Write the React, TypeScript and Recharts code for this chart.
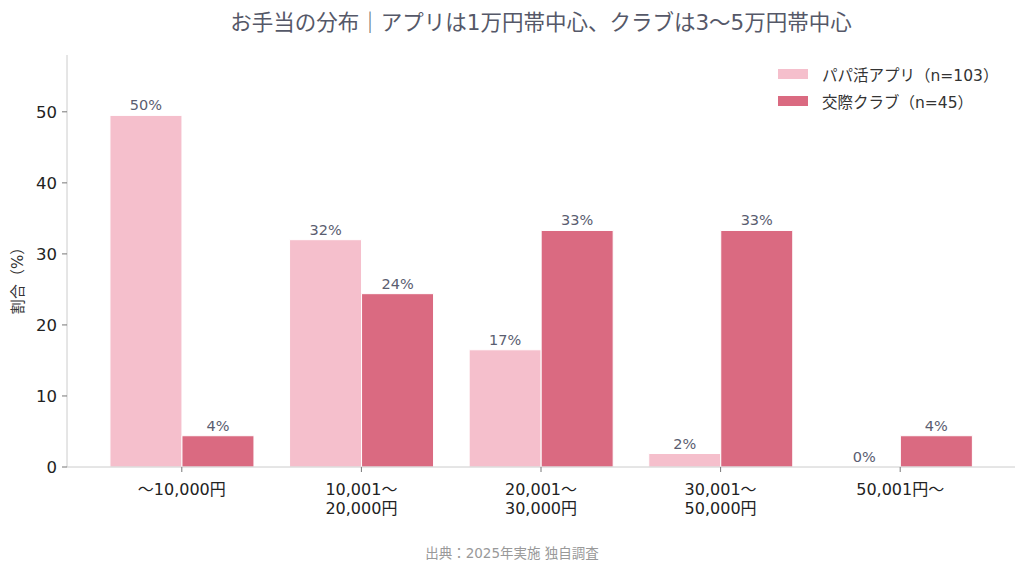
import React from 'react';
import { BarChart, Bar, XAxis, YAxis, LabelList } from 'recharts';

const categories = ['〜10,000円', '10,001〜\n20,000円', '20,001〜\n30,000円', '30,001〜\n50,000円', '50,001円〜'];
const appValues = [49.5, 32.0, 16.5, 1.9, 0];
const clubValues = [4.4, 24.4, 33.3, 33.3, 4.4];
const yTicks = [0, 10, 20, 30, 40, 50];

const APP_NAME = 'パパ活アプリ（n=103）';
const CLUB_NAME = '交際クラブ（n=45）';
const APP_COLOR = '#F5BFCC';
const CLUB_COLOR = '#DA6A81';
// matplotlib風: 英数字は DejaVu Sans、日本語は CJK フォントへフォールバック
const FONT = '"DejaVu Sans", "Noto Sans CJK JP", sans-serif';
const CJK = '"Noto Sans CJK JP", sans-serif';

const data = categories.map((c, i) => ({ name: c, app: appValues[i], club: clubValues[i] }));

// 2行のカテゴリ名
const XTick = (props: any) => {
  const { x, y, payload } = props;
  const lines = String(payload.value).split('\n');
  return (
    <g transform={`translate(${x},${y})`}>
      {lines.map((ln, i) => (
        <text key={i} x={0} y={21 + i * 19} textAnchor="middle" fontSize={16} fill="#222" fontFamily={FONT}>
          {ln}
        </text>
      ))}
    </g>
  );
};

const pct = (v: any) => `${Math.round(Number(v))}%`;

export default function App() {
  const legendItems = [
    { n: APP_NAME, c: APP_COLOR },
    { n: CLUB_NAME, c: CLUB_COLOR },
  ];
  return (
    <div style={{ position: 'absolute', left: 0, top: 0, width: 1024, height: 571, background: '#fff', fontFamily: FONT }}>
      {/* タイトルはプロット領域の中央に揃える */}
      <div style={{ position: 'absolute', top: 5, left: 67, width: 948, textAlign: 'center', fontSize: 21.5, color: '#555868', whiteSpace: 'nowrap' }}>
        お手当の分布<span style={{ fontFamily: CJK }}>｜</span>アプリは1万円帯中心、クラブは3〜5万円帯中心
      </div>
      <BarChart
        width={1024}
        height={571}
        data={data}
        margin={{ top: 55, right: 9, bottom: 44, left: 0 }}
        barCategoryGap="10%"
        barGap={0}
      >
        <XAxis
          dataKey="name"
          interval={0}
          height={60}
          padding={{ left: 25, right: 25 }}
          stroke="#cccccc"
          tickSize={5}
          tickLine={{ stroke: '#777' }}
          tick={<XTick />}
        />
        <YAxis
          width={67}
          domain={[0, 58]}
          ticks={yTicks}
          stroke="#cccccc"
          tickSize={5}
          tickLine={{ stroke: '#777' }}
          tick={{ fill: '#222', fontSize: 16.5, fontFamily: FONT, dx: -3 }}
          label={{
            content: (p: any) => {
              const vb = p.viewBox;
              const cx = 18;
              const cy = vb.y + vb.height / 2 + 16;
              return (
                <text x={cx} y={cy} transform={`rotate(-90, ${cx}, ${cy})`} textAnchor="middle" dominantBaseline="central" fontSize={15} fill="#333" fontFamily={FONT}>
                  割合（%）
                </text>
              );
            },
          }}
        />
        <Bar dataKey="app" name={APP_NAME} fill={APP_COLOR} stroke="#fff" strokeWidth={1} minPointSize={(v: any) => (v === 0 ? 0.1 : 0)} isAnimationActive={false}>
          <LabelList dataKey="app" position="top" offset={5} formatter={pct} fill="#5a5d70" fontSize={14.5} fontFamily={FONT} />
        </Bar>
        <Bar dataKey="club" name={CLUB_NAME} fill={CLUB_COLOR} stroke="#fff" strokeWidth={1} isAnimationActive={false}>
          <LabelList dataKey="club" position="top" offset={5} formatter={pct} fill="#5a5d70" fontSize={14.5} fontFamily={FONT} />
        </Bar>
      </BarChart>
      <div style={{ position: 'absolute', top: 60, left: 778, fontSize: 15.5, color: '#333' }}>
        {legendItems.map((it) => (
          <div key={it.n} style={{ display: 'flex', alignItems: 'center', height: 27 }}>
            <span style={{ width: 30, height: 10, background: it.c, display: 'inline-block', marginRight: 14 }} />
            <span>{it.n}</span>
          </div>
        ))}
      </div>
      <div style={{ position: 'absolute', top: 542, left: 0, width: 1024, textAlign: 'center', fontSize: 13.5, color: '#999' }}>
        出典：2025年実施 独自調査
      </div>
    </div>
  );
}
